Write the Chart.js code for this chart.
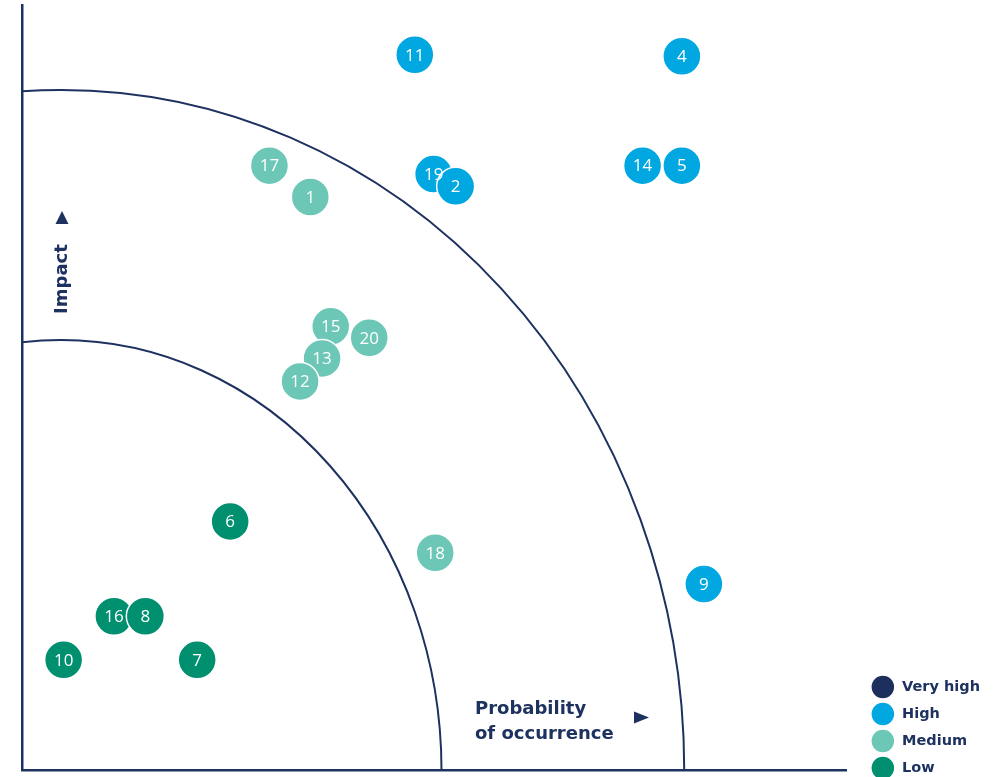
<!DOCTYPE html>
<html><head><meta charset="utf-8">
<script src="https://cdn.jsdelivr.net/npm/chart.js@4"></script>
<style>
html,body{margin:0;padding:0;overflow:hidden;background:#fff}
#wrap{width:994px;height:777px;overflow:hidden;position:relative}
canvas{display:block}
</style>
</head><body>
<div id="wrap"><canvas id="c" width="994" height="783"></canvas></div>
<script>
// ---- data ----
const riskLevels = ['Very high', 'High', 'Medium', 'Low'];
const levelColors = ['#1c2f5d', '#00a7e1', '#6dc7b6', '#009070'];

const veryHighIds = [];
const veryHighX = [];
const veryHighY = [];

const highIds = ['11', '4', '14', '5', '19', '2', '9'];
const highX = [4.50, 7.90, 7.40, 7.90, 4.74, 5.02, 8.18];
const highY = [9.35, 9.33, 7.90, 7.90, 7.79, 7.63, 2.43];

const mediumIds = ['17', '1', '15', '20', '13', '12', '18'];
const mediumX = [2.65, 3.17, 3.43, 3.92, 3.32, 3.04, 4.76];
const mediumY = [7.90, 7.49, 5.80, 5.65, 5.38, 5.08, 2.84];

const lowIds = ['6', '10', '7', '16', '8'];
const lowX = [2.15, 0.03, 1.73, 0.67, 1.07];
const lowY = [3.25, 1.44, 1.44, 2.01, 2.01];

// risk zone boundaries (data units, elliptical quarter arcs around origin)
const zoneRadiusX = [4.84, 7.93];
const zoneRadiusY = [5.62, 8.89];

const axisTitles = { y: 'Impact', x: ['Probability', 'of occurrence'] };

// ---- build ----
const NAVY = '#1e3260';
const TITLE_FONT = 'bold 18px "DejaVu Sans"';
function pts(xs, ys) { return xs.map((x, i) => ({ x: x, y: ys[i] })); }
const idLists = [veryHighIds, highIds, mediumIds, lowIds];
const pointLists = [pts(veryHighX, veryHighY), pts(highX, highY), pts(mediumX, mediumY), pts(lowX, lowY)];

const datasets = riskLevels.map((name, i) => ({
  label: name,
  data: pointLists[i],
  ids: idLists[i],
  backgroundColor: levelColors[i],
  borderColor: '#ffffff',
  borderWidth: 1.5,
  pointRadius: 19,
  pointHoverRadius: 19
}));

const zonesPlugin = {
  id: 'zones',
  beforeDatasetsDraw(chart) {
    const { ctx, chartArea: a, scales: { x, y } } = chart;
    const cx = x.getPixelForValue(0), cy = y.getPixelForValue(0);
    ctx.save();
    ctx.beginPath();
    ctx.rect(a.left, a.top - 5, a.right - a.left, a.bottom - a.top + 5);
    ctx.clip();
    ctx.strokeStyle = NAVY;
    ctx.lineWidth = 2;
    zoneRadiusX.forEach((rxv, i) => {
      const rx = x.getPixelForValue(rxv) - cx;
      const ry = cy - y.getPixelForValue(zoneRadiusY[i]);
      ctx.beginPath();
      ctx.ellipse(cx, cy, rx, ry, 0, Math.PI, 2 * Math.PI);
      ctx.stroke();
    });
    ctx.restore();
  }
};

const idPlugin = {
  id: 'ids',
  afterDatasetsDraw(chart) {
    const ctx = chart.ctx;
    ctx.save();
    ctx.fillStyle = '#ffffff';
    ctx.font = '400 17px "Open Sans"';
    ctx.textAlign = 'center';
    ctx.textBaseline = 'middle';
    chart.data.datasets.forEach((ds, i) => {
      chart.getDatasetMeta(i).data.forEach((el, j) => {
        ctx.fillText(ds.ids[j], el.x, el.y + 1);
      });
    });
    ctx.restore();
  }
};

const titlesPlugin = {
  id: 'titles',
  afterDraw(chart) {
    const { ctx, chartArea: a } = chart;
    ctx.save();
    ctx.fillStyle = NAVY;
    ctx.font = TITLE_FONT;
    // y title, rotated
    const ytx = a.left + 40, yty = 279;
    ctx.save();
    ctx.translate(ytx, yty);
    ctx.rotate(-Math.PI / 2);
    ctx.textAlign = 'center';
    ctx.textBaseline = 'middle';
    ctx.fillText(axisTitles.y, 0, 0);
    ctx.restore();
    ctx.beginPath();
    ctx.moveTo(ytx, 211); ctx.lineTo(ytx + 6.5, 224); ctx.lineTo(ytx - 6.5, 224); ctx.closePath();
    ctx.fill();
    // x title
    ctx.textAlign = 'left';
    ctx.textBaseline = 'middle';
    ctx.fillText(axisTitles.x[0], 475, 709);
    ctx.fillText(axisTitles.x[1], 475, 734);
    ctx.beginPath();
    ctx.moveTo(634, 711.5); ctx.lineTo(649, 717.5); ctx.lineTo(634, 723.5); ctx.closePath();
    ctx.fill();
    ctx.restore();
  }
};

const hidden = { grid: { display: false, drawTicks: false }, ticks: { display: false } };

new Chart(document.getElementById('c'), {
  type: 'scatter',
  data: { datasets: datasets },
  options: {
    responsive: false,
    animation: false,
    events: [],
    devicePixelRatio: 1,
    layout: { autoPadding: false, padding: { top: 5, left: 22, right: 4, bottom: 0 } },
    scales: {
      x: Object.assign({ type: 'linear', min: -0.5, max: 10, border: { display: true, color: NAVY, width: 2.5 },
        afterFit: s => { s.height = 13; } }, hidden),
      y: Object.assign({ type: 'linear', min: 0, max: 10, border: { display: true, color: NAVY, width: 2.5 },
        afterFit: s => { s.width = 0; } }, hidden),
      spacer: Object.assign({ type: 'linear', position: 'right', border: { display: false },
        afterFit: s => { s.width = 21; } }, hidden)
    },
    plugins: {
      tooltip: { enabled: false },
      legend: {
        position: 'right',
        align: 'end',
        labels: {
          boxWidth: 24, boxHeight: 24, useBorderRadius: true, borderRadius: 12,
          padding: 3, color: NAVY,
          font: { family: 'DejaVu Sans', size: 14.5, weight: 'bold' }
        }
      }
    }
  },
  plugins: [zonesPlugin, idPlugin, titlesPlugin]
});
</script>
</body></html>
